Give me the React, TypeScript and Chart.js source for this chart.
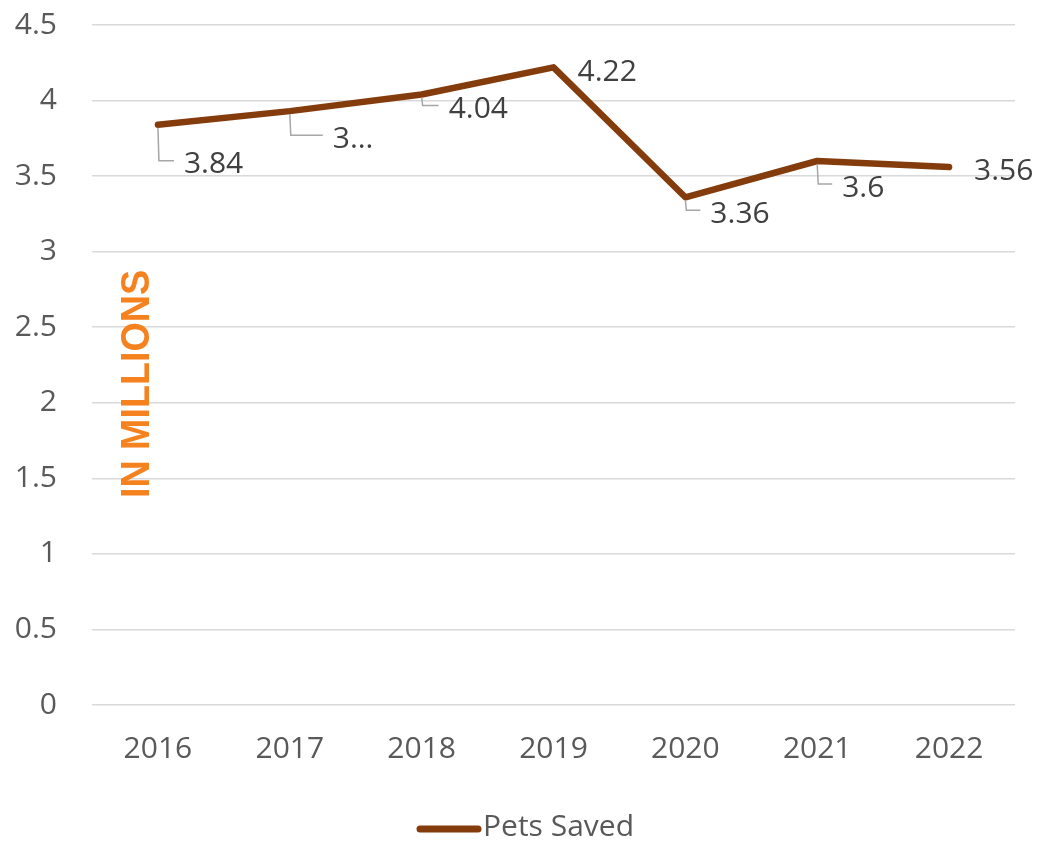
import React, { useEffect, useRef } from "react";
import { Chart, registerables } from "chart.js";

Chart.register(...registerables);

const years = ["2016", "2017", "2018", "2019", "2020", "2021", "2022"];
const petsSaved = [3.84, 3.93, 4.04, 4.22, 3.36, 3.6, 3.56];
const labelTexts = ["3.84", "3…", "4.04", "4.22", "3.36", "3.6", "3.56"];
const seriesName = "Pets Saved";
const axisNote = "IN MILLIONS";
const yMin = 0;
const yMax = 4.5;
const yStep = 0.5;

// label placement offsets (text left, text center) relative to each point
const labelOffsets: [number, number][] = [
  [26, 38],
  [43, 26],
  [27, 13],
  [24, 3],
  [25, 15],
  [25, 25],
  [25, 2],
];

const FONT = '"Open Sans", "Noto Sans", sans-serif';
const LINE_COLOR = "#843C0C";

const labelPlugin = {
  id: "leaderLabels",
  afterDatasetsDraw(chart: any) {
    const ctx = chart.ctx;
    const meta = chart.getDatasetMeta(0);
    ctx.save();
    ctx.font = `30px ${FONT}`;
    ctx.fillStyle = "#404040";
    ctx.textAlign = "left";
    ctx.textBaseline = "alphabetic";
    meta.data.forEach((pt: any, i: number) => {
      const { x, y } = pt.getProps(["x", "y"], true);
      const [dx, dy] = labelOffsets[i];
      const tx = x + dx;
      const ty = y + dy;
      if (dy > 8) {
        ctx.strokeStyle = "#A6A6A6";
        ctx.lineWidth = 1.5;
        ctx.beginPath();
        ctx.moveTo(x, y + 3);
        ctx.lineTo(x + 1, ty - 2);
        ctx.lineTo(tx - 10, ty - 2);
        ctx.stroke();
      }
      ctx.fillText(labelTexts[i], tx, ty + 10.5);
    });
    ctx.restore();
  },
  beforeDatasetsDraw(chart: any) {
    const ctx = chart.ctx;
    ctx.save();
    ctx.font = `bold 40px "Liberation Sans", sans-serif`;
    const w = ctx.measureText(axisNote).width;
    const sx = 228 / w;
    ctx.translate(135, 384);
    ctx.rotate(-Math.PI / 2);
    ctx.scale(sx, 1);
    ctx.fillStyle = "#F5821F";
    ctx.textAlign = "center";
    ctx.textBaseline = "alphabetic";
    ctx.fillText(axisNote, 0, 14.3);
    ctx.restore();
  },
  afterDraw(chart: any) {
    // legend
    const ctx = chart.ctx;
    const ds = chart.data.datasets[0];
    ctx.save();
    ctx.strokeStyle = ds.borderColor;
    ctx.lineWidth = 7;
    ctx.lineCap = "round";
    ctx.beginPath();
    ctx.moveTo(420, 829);
    ctx.lineTo(478, 829);
    ctx.stroke();
    ctx.font = `30px ${FONT}`;
    ctx.fillStyle = "#595959";
    ctx.textAlign = "left";
    ctx.textBaseline = "alphabetic";
    ctx.fillText(ds.label, 483, 836);
    ctx.restore();
  },
};

export default function App() {
  const ref = useRef<HTMLCanvasElement | null>(null);
  useEffect(() => {
    document.body.style.margin = "0";
    const chart = new Chart(ref.current as HTMLCanvasElement, {
      type: "line",
      data: {
        labels: years,
        datasets: [
          {
            label: seriesName,
            data: petsSaved,
            borderColor: LINE_COLOR,
            backgroundColor: LINE_COLOR,
            borderWidth: 6.5,
            borderCapStyle: "round",
            borderJoinStyle: "round",
            pointRadius: 0,
            pointHoverRadius: 0,
            tension: 0,
          },
        ],
      },
      options: {
        responsive: false,
        animation: false,
        layout: { padding: { top: 25, right: 22, left: 0, bottom: 0 } },
        plugins: {
          tooltip: { enabled: false },
          legend: { display: false },
        },
        scales: {
          x: {
            offset: true,
            grid: { display: false, drawTicks: false },
            border: { display: false },
            ticks: {
              color: "#595959",
              font: { size: 30, family: FONT },
              padding: 26,
              maxRotation: 0,
            },
            afterFit(scale: any) {
              scale.height = 139;
            },
          },
          y: {
            min: yMin,
            max: yMax,
            grid: {
              color: "#D9D9D9",
              lineWidth: 1.5,
              drawTicks: true,
              tickLength: 35,
              tickColor: "rgba(0,0,0,0)",
            },
            border: { display: false },
            ticks: {
              stepSize: yStep,
              color: "#595959",
              font: { size: 30, family: FONT },
              padding: 0,
              callback: (v: any) => String(Number(v)),
            },
            afterFit(scale: any) {
              scale.width = 92;
              scale.paddingTop = 0;
              scale.paddingBottom = 0;
            },
          },
        },
      },
      plugins: [labelPlugin],
    });
    return () => chart.destroy();
  }, []);
  return (
    <div style={{ width: 1037, height: 844 }}>
      <canvas ref={ref} width={1037} height={844} />
    </div>
  );
}
